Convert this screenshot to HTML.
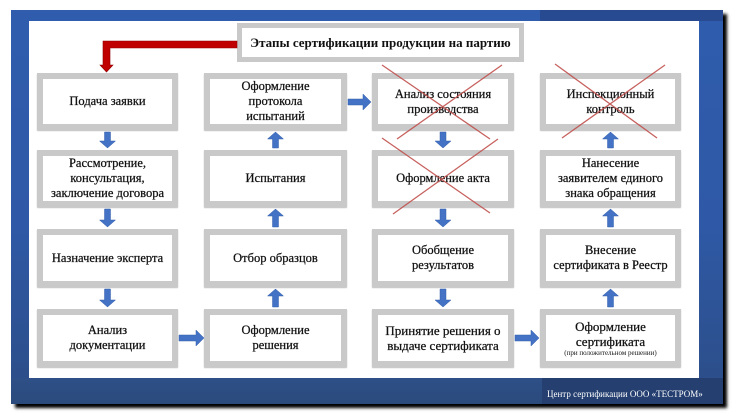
<!DOCTYPE html>
<html><head><meta charset="utf-8"><style>
*{margin:0;padding:0;box-sizing:border-box}
html,body{width:735px;height:415px;background:#fff;overflow:hidden;position:relative;font-family:"Liberation Serif","DejaVu Serif",serif}
.frame{position:absolute;left:11px;top:10px;width:712px;height:394px;background:linear-gradient(180deg,#2f5cad 0%,#2f59a6 55%,#2c4d86 100%);box-shadow:4px 4px 3px #000}
.tr{position:absolute;left:540px;top:10px;width:183px;height:11px;background:#274a90}
.br{position:absolute;left:542px;top:378px;width:181px;height:26px;background:#243f70}
.bl{position:absolute;left:11px;top:378px;width:531px;height:26px;background:linear-gradient(180deg,#2e5088,#2b4a7c)}
.inner{position:absolute;left:29px;top:21px;width:670px;height:357px;background:#fff}
.box{position:absolute;border:6px solid #c9c9c9;background:#fff;display:flex;align-items:center;justify-content:center;text-align:center;font-size:12.5px;line-height:15px;color:#111;-webkit-text-stroke:0.25px #111;box-shadow:0 1px 1px #bdbdbd}
.title{position:absolute;left:237px;top:23px;width:287px;height:39px;border:5px solid #c9c9c9;background:#fff;display:flex;align-items:center;justify-content:center;font-weight:bold;font-size:13px;color:#111}
.small{font-size:7px;line-height:9px;display:block;-webkit-text-stroke:0}
.foot{position:absolute;left:547px;top:389px;font-size:9px;color:#fff;white-space:nowrap}
svg{position:absolute;left:0;top:0}
</style></head><body>
<div class="frame"></div>
<div class="bl"></div>
<div class="br"></div>
<div class="tr"></div>
<div class="inner"></div>

<div class="title">Этапы сертификации продукции на партию</div>

<div class="box" style="left:37px;top:73px;width:141px;height:57px">Подача заявки</div>
<div class="box" style="left:37px;top:150px;width:141px;height:57px">Рассмотрение,<br>консультация,<br>заключение договора</div>
<div class="box" style="left:37px;top:229px;width:141px;height:58px">Назначение эксперта</div>
<div class="box" style="left:37px;top:309px;width:141px;height:58px">Анализ<br>документации</div>

<div class="box" style="left:204px;top:73px;width:143px;height:57px">Оформление<br>протокола<br>испытаний</div>
<div class="box" style="left:204px;top:150px;width:143px;height:57px">Испытания</div>
<div class="box" style="left:204px;top:229px;width:143px;height:58px">Отбор образцов</div>
<div class="box" style="left:204px;top:309px;width:143px;height:58px">Оформление<br>решения</div>

<div class="box" style="left:372px;top:73px;width:142px;height:57px">Анализ состояния<br>производства</div>
<div class="box" style="left:372px;top:150px;width:142px;height:57px">Оформление акта</div>
<div class="box" style="left:372px;top:229px;width:142px;height:58px">Обобщение<br>результатов</div>
<div class="box" style="left:372px;top:309px;width:142px;height:58px;font-size:13px">Принятие решения о<br>выдаче сертификата</div>

<div class="box" style="left:540px;top:73px;width:141px;height:57px">Инспекционный<br>контроль</div>
<div class="box" style="left:540px;top:150px;width:141px;height:57px">Нанесение<br>заявителем единого<br>знака обращения</div>
<div class="box" style="left:540px;top:229px;width:141px;height:58px">Внесение<br>сертификата в Реестр</div>
<div class="box" style="left:540px;top:309px;width:141px;height:58px;font-size:13px;line-height:15px"><div>Оформление<br>сертификата<span class="small">(при положительном решении)</span></div></div>

<div class="foot">Центр сертификации ООО «ТЕСТРОМ»</div>

<svg width="735" height="415" viewBox="0 0 735 415">
<g fill="#c00000" stroke="#900000" stroke-width="0.6">
<path d="M237 41 L103 41 L103 65 L100 65 L106.5 72 L113 65 L110 65 L110 48 L237 48 Z"/>
</g>
<g fill="#4472c4" stroke="#3560ad" stroke-width="0.5">
<path d="M104.5 132h6v9h5l-8 7-8-7h5z"/>
<path d="M104.5 209h6v11h5l-8 7-8-7h5z"/>
<path d="M104.5 289h6v11h5l-8 7-8-7h5z"/>
<path d="M272.5 148h6v-9h5l-8-7-8 7h5z"/>
<path d="M272.5 227h6v-11h5l-8-7-8 7h5z"/>
<path d="M272.5 307h6v-11h5l-8-7-8 7h5z"/>
<path d="M440 132h6v9h5l-8 7-8-7h5z"/>
<path d="M440 209h6v11h5l-8 7-8-7h5z"/>
<path d="M440 289h6v11h5l-8 7-8-7h5z"/>
<path d="M607.5 148h6v-9h5l-8-7-8 7h5z"/>
<path d="M607.5 227h6v-11h5l-8-7-8 7h5z"/>
<path d="M607.5 307h6v-11h5l-8-7-8 7h5z"/>
<path d="M348 99h15v-5l8 8-8 8v-5h-15z"/>
<path d="M179 335h17v-5l8 8-8 8v-5h-17z"/>
<path d="M515 335h16v-5l8 8-8 8v-5h-16z"/>
</g>
<g stroke="#c0504d" stroke-width="1.3" opacity="0.9" fill="none">
<line x1="382" y1="65" x2="490" y2="139"/>
<line x1="502" y1="65" x2="397" y2="139"/>
<line x1="382" y1="138" x2="490" y2="213"/>
<line x1="498" y1="139" x2="393" y2="214"/>
<line x1="555" y1="64" x2="657" y2="138"/>
<line x1="665" y1="65" x2="562" y2="138"/>
</g>
</svg>
</body></html>
